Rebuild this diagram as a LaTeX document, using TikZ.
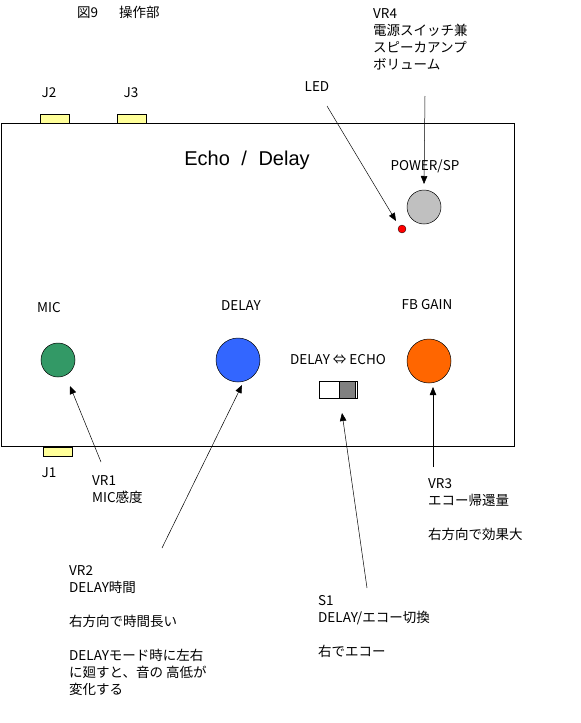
\documentclass[tikz,border=0pt]{standalone}
\usepackage{fontspec}
\setmainfont{Noto Sans CJK JP}
\newfontfamily\latinsf{Liberation Sans}
\usetikzlibrary{arrows.meta}
\definecolor{micgreen}{RGB}{51,153,102}
\definecolor{delblue}{RGB}{51,102,255}
\definecolor{fborange}{RGB}{255,102,0}
\definecolor{pwgray}{RGB}{192,192,192}
\definecolor{jackyel}{RGB}{255,255,153}
\definecolor{swgray}{RGB}{128,128,128}
\tikzset{
  lbl/.style={inner sep=0pt, font=\fontsize{13.5}{17}\selectfont},
  blk/.style={inner sep=0pt, anchor=north west, align=left, font=\fontsize{13.5}{17}\selectfont},
  knob/.style={circle, draw=black, line width=0.5pt, inner sep=0pt},
  jack/.style={draw=black, line width=0.6pt, fill=jackyel},
  ptr/.style={line width=0.5pt, -{Triangle[length=8pt,width=6.5pt]}},
}
\begin{document}
\begin{tikzpicture}[x=1pt,y=-1pt]
\useasboundingbox (0,0) rectangle (581,723);
% title
\node[lbl, anchor=west] (title) at (77,12) {図9\hspace{21pt}操作部};
% main box
\draw[line width=0.8pt] (1,123) rectangle (514,446);
\node[inner sep=0pt] (box) at (257,285) {};
% jacks
\draw[jack] (40,114) rectangle (69,123);
\draw[jack] (117,114) rectangle (146,123);
\draw[jack] (43,447) rectangle (72,456);
\node[lbl] (j2) at (49,93) {J2};
\node[lbl] (j3) at (131,93) {J3};
\node[lbl] (j1) at (49,473) {J1};
% heading
\node[inner sep=0pt, font=\latinsf\fontsize{20}{24}\selectfont] (head) at (247,160) {Echo\hspace{6pt} /\hspace{6pt} Delay};
% knobs
\node[lbl] (powlbl) at (425,166) {POWER/SP};
\node[knob, fill=pwgray, minimum size=34pt] (vr4) at (424,207) {};
\node[circle, fill=red, draw=black, line width=0.3pt, inner sep=0pt, minimum size=8pt] (led) at (402,229) {};
\node[lbl] (miclbl) at (49,308) {MIC};
\node[knob, fill=micgreen, minimum size=34pt] (vr1) at (58,360) {};
\node[lbl] (dellbl) at (241,306) {DELAY};
\node[knob, fill=delblue, minimum size=44pt] (vr2) at (238,360) {};
\node[lbl] (fblbl) at (427,305) {FB GAIN};
\node[knob, fill=fborange, minimum size=44pt] (vr3) at (429,361) {};
\node[lbl] (swlbl) at (338,360) {DELAY ⇔ ECHO};
% switch
\draw[line width=0.6pt, fill=white] (319,381) rectangle (357,398);
\draw[line width=0.6pt, fill=swgray] (339,381) rectangle (355,398);
\node[inner sep=0pt, minimum width=38pt, minimum height=17pt] (s1) at (338,389.5) {};
% text blocks
\node[lbl] (ledlbl) at (317,87) {LED};
\node[blk] (vr4txt) at (373,8) {VR4\\電源スイッチ兼\\スピーカアンプ\\ボリューム};
\node[blk] (vr1txt) at (92,475) {VR1\\MIC感度};
\node[blk] (vr2txt) at (69,565) {VR2\\DELAY時間\\[17pt]右方向で時間長い\\[17pt]DELAYモード時に左右\\に廻すと、音の 高低が\\変化する};
\node[blk] (vr3txt) at (428,478) {VR3\\エコー帰還量\\[17pt]右方向で効果大};
\node[blk] (s1txt) at (318,595) {S1\\DELAY/エコー切換\\[17pt]右でエコー};
% pointer ends
\coordinate (ledA) at (327,106);
\coordinate (ledB) at (396,221);
\coordinate (vr4A) at (425,96);
\coordinate (vr4B) at (424,184);
\coordinate (vr1A) at (101,462);
\coordinate (vr1B) at (70,386);
\coordinate (vr2A) at (162,548);
\coordinate (vr2B) at (242,385);
\coordinate (vr3A) at (433,467);
\coordinate (vr3B) at (433,387);
\coordinate (s1A) at (367,588);
\coordinate (s1B) at (342,413);
\draw[ptr] (ledA) -- (ledB);
\draw[ptr] (vr4A) -- (vr4B);
\draw[ptr] (vr1A) -- (vr1B);
\draw[ptr] (vr2A) -- (vr2B);
\draw[ptr] (vr3A) -- (vr3B);
\draw[ptr] (s1A) -- (s1B);
\end{tikzpicture}
\end{document}
